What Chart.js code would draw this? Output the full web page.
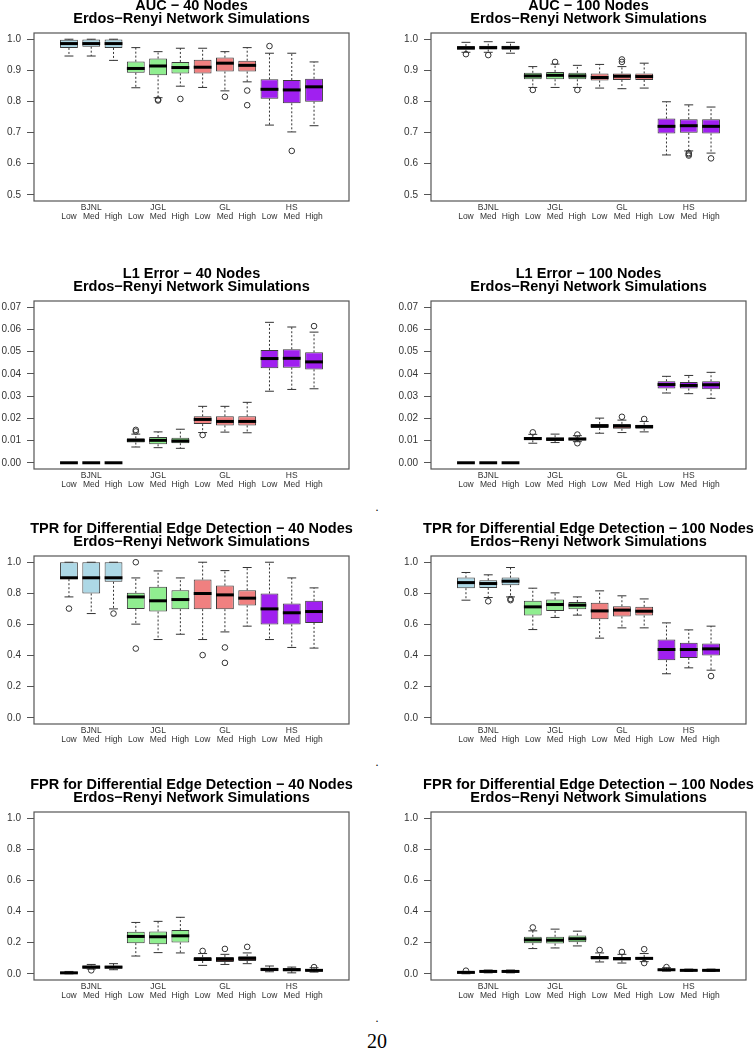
<!DOCTYPE html>
<html>
<head>
<meta charset="utf-8">
<script src="https://cdn.jsdelivr.net/npm/chart.js@4.4.1/dist/chart.umd.min.js"></script>
<style>
  html, body { margin: 0; padding: 0; background: #fff; width: 754px; height: 1050px; overflow: hidden; position: relative; }
  canvas { position: absolute; }
  .pg { position: absolute; font-family: "Liberation Serif", "DejaVu Serif", serif; color: #000; }
  .dot { font-size: 12px; line-height: 12px; width: 6px; text-align: center; }
</style>
</head>
<body>
<div class="pg dot" style="left:374px;top:501px">.</div>
<div class="pg dot" style="left:374px;top:756px">.</div>
<div class="pg dot" style="left:374px;top:1012px">.</div>
<div class="pg" style="left:0;width:754px;text-align:center;top:1031px;font-size:20px;line-height:20px">20</div>
<script>
"use strict";

const groups = ["BJNL", "JGL", "GL", "HS"];
const levels = ["Low", "Med", "High"];

// each row: [lower whisker, q1, median, q3, upper whisker]
const auc40 = [
    [0.946, 0.972, 0.986, 0.998, 1.000],
    [0.946, 0.976, 0.986, 0.999, 1.000],
    [0.932, 0.972, 0.986, 0.999, 1.000],
    [0.844, 0.892, 0.906, 0.928, 0.973],
    [0.812, 0.884, 0.914, 0.938, 0.960],
    [0.849, 0.890, 0.909, 0.927, 0.971],
    [0.845, 0.890, 0.910, 0.934, 0.971],
    [0.834, 0.896, 0.923, 0.941, 0.960],
    [0.863, 0.896, 0.916, 0.931, 0.973],
    [0.724, 0.809, 0.839, 0.871, 0.955],
    [0.702, 0.794, 0.837, 0.869, 0.955],
    [0.722, 0.799, 0.847, 0.873, 0.927],
];
const auc40Outliers = [[5, 0.806], [5, 0.803], [6, 0.808], [8, 0.815], [9, 0.835], [9, 0.788], [10, 0.978], [11, 0.641]];

const auc100 = [
    [0.958, 0.966, 0.972, 0.978, 0.990],
    [0.958, 0.967, 0.973, 0.979, 0.992],
    [0.955, 0.966, 0.973, 0.979, 0.990],
    [0.845, 0.871, 0.882, 0.892, 0.912],
    [0.845, 0.871, 0.884, 0.895, 0.920],
    [0.845, 0.871, 0.882, 0.892, 0.916],
    [0.843, 0.867, 0.877, 0.890, 0.919],
    [0.841, 0.869, 0.881, 0.890, 0.912],
    [0.843, 0.869, 0.880, 0.890, 0.923],
    [0.628, 0.697, 0.720, 0.745, 0.799],
    [0.641, 0.699, 0.722, 0.743, 0.789],
    [0.634, 0.697, 0.720, 0.743, 0.782],
];
const auc100Outliers = [[1, 0.952], [2, 0.949], [4, 0.837], [5, 0.927], [6, 0.837], [8, 0.935], [8, 0.927], [11, 0.634], [11, 0.630], [11, 0.626], [12, 0.617]];

const l1Err40 = [
    [0, 0, 0, 0.0001, 0.0001],
    [0, 0, 0, 0.0001, 0.0001],
    [0, 0, 0, 0.0001, 0.0001],
    [0.0071, 0.0091, 0.0101, 0.0110, 0.0129],
    [0.0068, 0.0083, 0.0101, 0.0116, 0.0139],
    [0.0065, 0.0088, 0.0098, 0.0113, 0.0151],
    [0.0136, 0.0174, 0.0195, 0.0209, 0.0254],
    [0.0138, 0.0168, 0.0186, 0.0209, 0.0254],
    [0.0135, 0.0168, 0.0186, 0.0209, 0.0272],
    [0.0322, 0.0425, 0.0469, 0.0508, 0.0632],
    [0.0330, 0.0428, 0.0470, 0.0511, 0.0611],
    [0.0333, 0.0420, 0.0454, 0.0497, 0.0588],
];
const l1Err40Outliers = [[4, 0.0148], [4, 0.0141], [7, 0.0125], [12, 0.0615]];

const l1Err100 = [
    [0, 0, 0, 0.0001, 0.0001],
    [0, 0, 0, 0.0001, 0.0001],
    [0, 0, 0, 0.0001, 0.0001],
    [0.0088, 0.0101, 0.0109, 0.0116, 0.0128],
    [0.0091, 0.0098, 0.0106, 0.0115, 0.0129],
    [0.0095, 0.0100, 0.0107, 0.0114, 0.0122],
    [0.0133, 0.0156, 0.0166, 0.0175, 0.0201],
    [0.0136, 0.0153, 0.0165, 0.0175, 0.0192],
    [0.0139, 0.0153, 0.0163, 0.0171, 0.0186],
    [0.0314, 0.0334, 0.0352, 0.0367, 0.0389],
    [0.0311, 0.0334, 0.0348, 0.0363, 0.0393],
    [0.0290, 0.0331, 0.0351, 0.0367, 0.0407],
];
const l1Err100Outliers = [[4, 0.0137], [6, 0.0127], [6, 0.0088], [8, 0.0207], [9, 0.0197]];

const tpr40 = [
    [0.777, 0.891, 0.900, 1.000, 1.000],
    [0.670, 0.799, 0.900, 1.000, 1.000],
    [0.700, 0.874, 0.900, 1.000, 1.000],
    [0.602, 0.700, 0.777, 0.803, 0.899],
    [0.503, 0.683, 0.752, 0.842, 0.944],
    [0.537, 0.698, 0.760, 0.820, 0.899],
    [0.503, 0.698, 0.799, 0.889, 1.000],
    [0.552, 0.698, 0.790, 0.850, 0.946],
    [0.589, 0.722, 0.769, 0.820, 0.966],
    [0.503, 0.600, 0.700, 0.799, 1.000],
    [0.452, 0.600, 0.675, 0.734, 0.899],
    [0.448, 0.610, 0.683, 0.752, 0.835],
];
const tpr40Outliers = [[1, 0.702], [3, 0.670], [4, 1.000], [4, 0.445], [7, 0.403], [8, 0.452], [8, 0.353]];

const tpr100 = [
    [0.756, 0.833, 0.869, 0.901, 0.934],
    [0.773, 0.835, 0.863, 0.884, 0.919],
    [0.777, 0.852, 0.878, 0.901, 0.966],
    [0.567, 0.657, 0.713, 0.752, 0.833],
    [0.645, 0.687, 0.728, 0.760, 0.803],
    [0.660, 0.698, 0.724, 0.745, 0.777],
    [0.512, 0.634, 0.687, 0.739, 0.816],
    [0.578, 0.651, 0.692, 0.717, 0.784],
    [0.578, 0.657, 0.685, 0.713, 0.764],
    [0.283, 0.370, 0.439, 0.503, 0.610],
    [0.321, 0.385, 0.439, 0.482, 0.565],
    [0.306, 0.400, 0.443, 0.478, 0.589],
];
const tpr100Outliers = [[2, 0.749], [3, 0.764], [3, 0.756], [12, 0.268]];

const fpr40 = [
    [0.000, 0.002, 0.006, 0.011, 0.015],
    [0.030, 0.032, 0.043, 0.054, 0.060],
    [0.026, 0.032, 0.043, 0.052, 0.065],
    [0.114, 0.197, 0.240, 0.270, 0.330],
    [0.136, 0.190, 0.238, 0.272, 0.337],
    [0.134, 0.201, 0.244, 0.281, 0.363],
    [0.054, 0.082, 0.093, 0.108, 0.130],
    [0.060, 0.076, 0.093, 0.108, 0.125],
    [0.065, 0.082, 0.099, 0.112, 0.134],
    [0.013, 0.017, 0.028, 0.039, 0.050],
    [0.006, 0.017, 0.026, 0.037, 0.043],
    [0.011, 0.017, 0.022, 0.030, 0.039],
];
const fpr40Outliers = [[2, 0.022], [7, 0.147], [8, 0.160], [9, 0.173], [12, 0.043]];

const fpr100 = [
    [0.000, 0.002, 0.009, 0.013, 0.015],
    [0.006, 0.009, 0.015, 0.022, 0.024],
    [0.006, 0.009, 0.015, 0.022, 0.024],
    [0.162, 0.197, 0.218, 0.238, 0.276],
    [0.166, 0.194, 0.216, 0.238, 0.287],
    [0.179, 0.203, 0.225, 0.246, 0.274],
    [0.076, 0.091, 0.104, 0.114, 0.134],
    [0.069, 0.086, 0.097, 0.108, 0.125],
    [0.078, 0.091, 0.099, 0.108, 0.130],
    [0.017, 0.019, 0.026, 0.032, 0.039],
    [0.015, 0.017, 0.022, 0.026, 0.030],
    [0.015, 0.017, 0.022, 0.026, 0.030],
];
const fpr100Outliers = [[1, 0.020], [4, 0.298], [7, 0.153], [8, 0.140], [9, 0.158], [9, 0.069], [10, 0.043]];

const aucTicks = [0.5, 0.6, 0.7, 0.8, 0.9, 1.0];
const l1Ticks = [0, 0.01, 0.02, 0.03, 0.04, 0.05, 0.06, 0.07];
const rateTicks = [0, 0.2, 0.4, 0.6, 0.8, 1.0];

const subtitle = "Erdos\u2212Renyi Network Simulations";
const groupColors = ["#ADD8E6", "#90EE90", "#F08080", "#A020F0"];

// plot-box placement on the page (left, top of the framed area)
const panels = [
    { title: "AUC \u2212 40 Nodes", stats: auc40, outliers: auc40Outliers, ticks: aucTicks, digits: 1, left: 34, top: 33 },
    { title: "AUC \u2212 100 Nodes", stats: auc100, outliers: auc100Outliers, ticks: aucTicks, digits: 1, left: 431, top: 33 },
    { title: "L1 Error \u2212 40 Nodes", stats: l1Err40, outliers: l1Err40Outliers, ticks: l1Ticks, digits: 2, left: 34, top: 301 },
    { title: "L1 Error \u2212 100 Nodes", stats: l1Err100, outliers: l1Err100Outliers, ticks: l1Ticks, digits: 2, left: 431, top: 301 },
    { title: "TPR for Differential Edge Detection \u2212 40 Nodes", stats: tpr40, outliers: tpr40Outliers, ticks: rateTicks, digits: 1, left: 34, top: 556 },
    { title: "TPR for Differential Edge Detection \u2212 100 Nodes", stats: tpr100, outliers: tpr100Outliers, ticks: rateTicks, digits: 1, left: 431, top: 556 },
    { title: "FPR for Differential Edge Detection \u2212 40 Nodes", stats: fpr40, outliers: fpr40Outliers, ticks: rateTicks, digits: 1, left: 34, top: 812 },
    { title: "FPR for Differential Edge Detection \u2212 100 Nodes", stats: fpr100, outliers: fpr100Outliers, ticks: rateTicks, digits: 1, left: 431, top: 812 },
];

const PLOT_W = 315;
const PLOT_H = 168;
const AXIS_W = 40;
const TITLE_H = 34;
const XAXIS_H = 30;
const TITLE_SIZE = 14.5;
const TITLE_LINE = 13.6;

Chart.defaults.font.family = '"Liberation Sans", Arial, sans-serif';
Chart.defaults.color = "#333";

// whiskers, staples, medians and the frame, placed through the chart's scales
const boxExtras = (stats) => ({
    id: "boxExtras",
    afterDatasetsDraw(chart) {
        const ctx = chart.ctx;
        const yScale = chart.scales.y;
        const bars = chart.getDatasetMeta(0).data;
        ctx.save();
        stats.forEach((s, i) => {
            const bar = bars[i];
            const cx = bar.x;
            const half = bar.width / 2;
            const [lo, q1, med, q3, hi] = s.map(v => yScale.getPixelForValue(v));
            ctx.strokeStyle = "#333";
            ctx.lineWidth = 1;
            ctx.setLineDash([2, 2]);
            ctx.beginPath();
            ctx.moveTo(cx, q3);
            ctx.lineTo(cx, hi);
            ctx.moveTo(cx, q1);
            ctx.lineTo(cx, lo);
            ctx.stroke();
            ctx.setLineDash([]);
            ctx.beginPath();
            ctx.moveTo(cx - half / 2, hi);
            ctx.lineTo(cx + half / 2, hi);
            ctx.moveTo(cx - half / 2, lo);
            ctx.lineTo(cx + half / 2, lo);
            ctx.stroke();
            ctx.strokeStyle = "#000";
            ctx.lineWidth = 3;
            ctx.beginPath();
            ctx.moveTo(cx - half, med);
            ctx.lineTo(cx + half, med);
            ctx.stroke();
        });
        const a = chart.chartArea;
        ctx.strokeStyle = "#555";
        ctx.lineWidth = 1.2;
        ctx.strokeRect(a.left, a.top, a.right - a.left, a.bottom - a.top);
        ctx.restore();
    },
});

const makePanel = (panel) => {
    const canvas = document.createElement("canvas");
    canvas.width = AXIS_W * 2 + PLOT_W;
    canvas.height = TITLE_H + PLOT_H + XAXIS_H;
    canvas.style.left = (panel.left - AXIS_W) + "px";
    canvas.style.top = (panel.top - TITLE_H) + "px";
    document.body.appendChild(canvas);

    const lo = panel.ticks[0];
    const hi = panel.ticks[panel.ticks.length - 1];
    const pad = (hi - lo) * 0.04;

    new Chart(canvas.getContext("2d"), {
        type: "bar",
        data: {
            datasets: [
                {
                    type: "bar",
                    data: panel.stats.map((s, i) => ({ x: i + 1, y: [s[1], s[3]] })),
                    backgroundColor: panel.stats.map((s, i) => groupColors[Math.floor(i / 3)]),
                    borderColor: "#3a3a3a",
                    borderWidth: 1,
                    borderSkipped: false,
                    barPercentage: 0.8,
                    categoryPercentage: 1,
                },
                {
                    type: "scatter",
                    data: panel.outliers.map(([i, v]) => ({ x: i, y: v })),
                    pointStyle: "circle",
                    pointRadius: 2.8,
                    pointBorderWidth: 1,
                    pointBorderColor: "#333",
                    pointBackgroundColor: "rgba(0,0,0,0)",
                    showLine: false,
                },
            ],
        },
        options: {
            responsive: false,
            animation: false,
            events: [],
            layout: { padding: 0 },
            plugins: {
                legend: { display: false },
                tooltip: { enabled: false },
                title: {
                    display: true,
                    text: [panel.title, subtitle],
                    color: "#000",
                    font: { size: TITLE_SIZE, weight: "bold", lineHeight: TITLE_LINE / TITLE_SIZE },
                    padding: { top: 0, bottom: TITLE_H - 2 * TITLE_LINE },
                },
            },
            scales: {
                x: {
                    type: "linear",
                    min: 0.02,
                    max: 12.98,
                    grid: { display: false, drawTicks: false },
                    border: { display: false },
                    afterBuildTicks: (scale) => {
                        scale.ticks = panel.stats.map((s, i) => ({ value: i + 1 }));
                    },
                    afterFit: (scale) => { scale.height = XAXIS_H; },
                    ticks: {
                        autoSkip: false,
                        maxRotation: 0,
                        padding: 2,
                        color: "#333",
                        font: { size: 8.5, lineHeight: 1.1 },
                        callback: (v) => {
                            const i = Math.round(v) - 1;
                            const k = i % 3;
                            return [k === 1 ? groups[Math.floor(i / 3)] : "", levels[k]];
                        },
                    },
                },
                y: {
                    min: lo - pad,
                    max: hi + pad,
                    grid: { drawOnChartArea: false, drawTicks: true, tickLength: 7, color: "#555" },
                    border: { display: false },
                    afterBuildTicks: (scale) => {
                        scale.ticks = panel.ticks.map(v => ({ value: v }));
                    },
                    afterFit: (scale) => { scale.width = AXIS_W; },
                    ticks: {
                        padding: 6,
                        color: "#333",
                        font: { size: 10 },
                        callback: (v) => Number(v).toFixed(panel.digits),
                    },
                },
                // empty right-hand margin so the title centres over the plot box
                yRight: {
                    position: "right",
                    grid: { display: false },
                    border: { display: false },
                    ticks: { display: false },
                    afterFit: (scale) => { scale.width = AXIS_W; },
                },
            },
        },
        plugins: [boxExtras(panel.stats)],
    });
};

panels.forEach(makePanel);
</script>
</body>
</html>
